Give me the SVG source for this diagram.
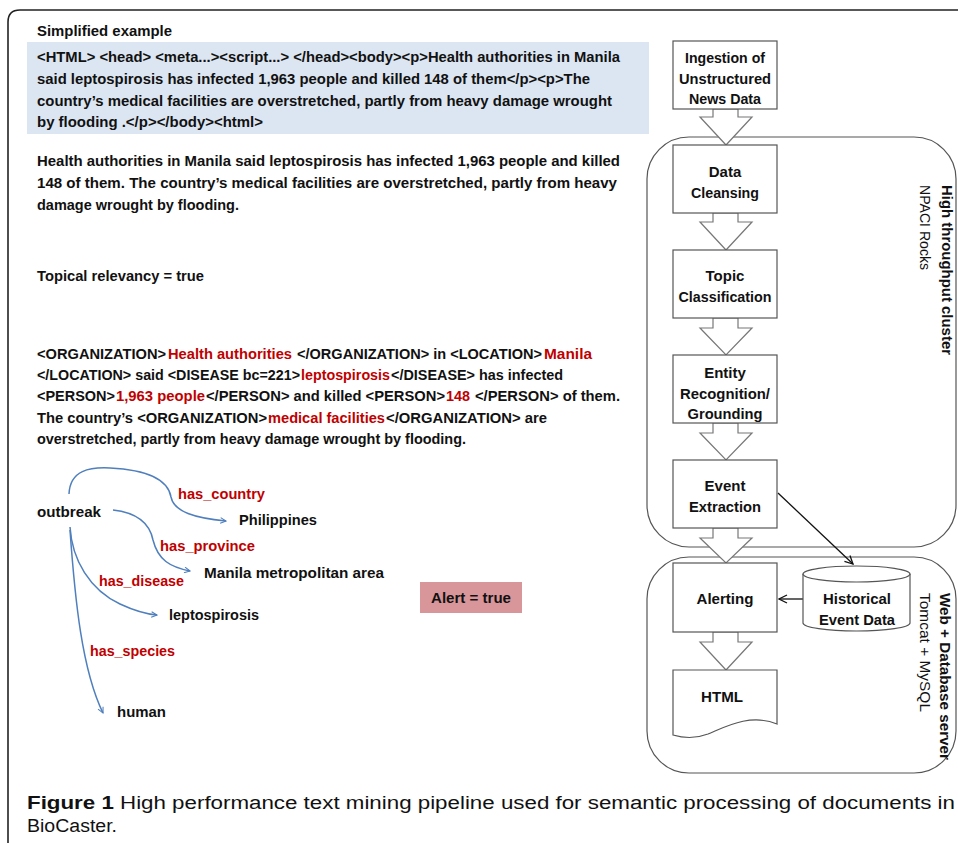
<svg xmlns="http://www.w3.org/2000/svg" width="958" height="843" viewBox="0 0 958 843">
<defs>
<style>
.t{font-family:"Liberation Sans",Arial,sans-serif;font-weight:bold;font-size:15px;fill:#111}
.r{fill:#c00000}
.n{font-family:"Liberation Sans",Arial,sans-serif;font-weight:bold;font-size:15px;fill:#111;text-anchor:middle}
.box{fill:#fff;stroke:#555;stroke-width:1.2}
.barrow{fill:#fff;stroke:#777;stroke-width:1.2}
.clu{fill:none;stroke:#555;stroke-width:1.2}
.blue{fill:none;stroke:#4f7fbd;stroke-width:1.5;marker-end:url(#chev)}
.blk{fill:none;stroke:#111;stroke-width:1.3;marker-end:url(#open)}
.cap{font-family:"Liberation Sans",Arial,sans-serif;font-size:18px;fill:#111}
</style>
<marker id="chev" viewBox="0 0 10 10" refX="9" refY="5" markerWidth="7" markerHeight="7" markerUnits="userSpaceOnUse" orient="auto"><path d="M1,1 L9,5 L1,9" fill="none" stroke="#4f7fbd" stroke-width="1.5"/></marker>
<marker id="open" viewBox="0 0 10 10" refX="9" refY="5" markerWidth="10" markerHeight="10" markerUnits="userSpaceOnUse" orient="auto"><path d="M1,1 L9,5 L1,9" fill="none" stroke="#111" stroke-width="1.3"/></marker>
</defs>
<rect width="958" height="843" fill="#fff"/>
<path d="M8,843 V22 Q8,10 20,10 H960" fill="none" stroke="#222" stroke-width="1.6"/>

<g id="html-example">
<text class="t" x="37" y="36" textLength="135" lengthAdjust="spacingAndGlyphs">Simplified example</text>
<rect x="27" y="42" width="622" height="92" fill="#dce6f2"/>
<text class="t" x="37" y="62" textLength="583" lengthAdjust="spacingAndGlyphs">&lt;HTML&gt; &lt;head&gt; &lt;meta...&gt;&lt;script...&gt; &lt;/head&gt;&lt;body&gt;&lt;p&gt;Health  authorities in Manila</text>
<text class="t" x="37" y="84" textLength="553" lengthAdjust="spacingAndGlyphs">said leptospirosis has infected 1,963 people and killed 148 of them&lt;/p&gt;&lt;p&gt;The</text>
<text class="t" x="37" y="106" textLength="575" lengthAdjust="spacingAndGlyphs">country’s medical facilities are overstretched, partly from heavy damage wrought</text>
<text class="t" x="37" y="127" textLength="226" lengthAdjust="spacingAndGlyphs">by flooding .&lt;/p&gt;&lt;/body&gt;&lt;html&gt;</text>
</g>

<g id="plain-text">
<text class="t" x="37" y="166" textLength="583" lengthAdjust="spacingAndGlyphs">Health authorities in Manila said leptospirosis has infected 1,963 people and killed</text>
<text class="t" x="37" y="188" textLength="580" lengthAdjust="spacingAndGlyphs">148 of them.  The country’s medical facilities are overstretched, partly from heavy</text>
<text class="t" x="37" y="210" textLength="202" lengthAdjust="spacingAndGlyphs">damage wrought by flooding.</text>
</g>

<g id="topical">
<text class="t" x="37" y="281" textLength="167" lengthAdjust="spacingAndGlyphs">Topical relevancy = true</text>
</g>

<g id="tagged-text">
<text class="t" x="37" y="359" textLength="129" lengthAdjust="spacingAndGlyphs">&lt;ORGANIZATION&gt;</text>
<text class="t r" x="168" y="359" textLength="124" lengthAdjust="spacingAndGlyphs">Health authorities</text>
<text class="t" x="297" y="359" textLength="245" lengthAdjust="spacingAndGlyphs">&lt;/ORGANIZATION&gt; in &lt;LOCATION&gt;</text>
<text class="t r" x="544" y="359" textLength="48" lengthAdjust="spacingAndGlyphs">Manila</text>

<text class="t" x="37" y="380" textLength="263" lengthAdjust="spacingAndGlyphs">&lt;/LOCATION&gt; said &lt;DISEASE bc=221&gt;</text>
<text class="t r" x="301" y="380" textLength="89" lengthAdjust="spacingAndGlyphs">leptospirosis</text>
<text class="t" x="391" y="380" textLength="172" lengthAdjust="spacingAndGlyphs">&lt;/DISEASE&gt; has infected</text>

<text class="t" x="37" y="401" textLength="78" lengthAdjust="spacingAndGlyphs">&lt;PERSON&gt;</text>
<text class="t r" x="116" y="401" textLength="89" lengthAdjust="spacingAndGlyphs">1,963 people</text>
<text class="t" x="206" y="401" textLength="239" lengthAdjust="spacingAndGlyphs">&lt;/PERSON&gt; and killed  &lt;PERSON&gt;</text>
<text class="t r" x="446" y="401" textLength="24" lengthAdjust="spacingAndGlyphs">148</text>
<text class="t" x="475" y="401" textLength="145" lengthAdjust="spacingAndGlyphs">&lt;/PERSON&gt; of them.</text>

<text class="t" x="37" y="423" textLength="230" lengthAdjust="spacingAndGlyphs">The country’s &lt;ORGANIZATION&gt;</text>
<text class="t r" x="268" y="423" textLength="117" lengthAdjust="spacingAndGlyphs">medical facilities</text>
<text class="t" x="386" y="423" textLength="161" lengthAdjust="spacingAndGlyphs">&lt;/ORGANIZATION&gt; are</text>

<text class="t" x="37" y="444" textLength="429" lengthAdjust="spacingAndGlyphs">overstretched, partly from heavy damage wrought by flooding.</text>
</g>

<g id="relations">
<g class="edges">
<path class="blue" d="M69,494 C70,470 90,467 110,468 C150,470 168,480 171,497 C174,512 195,518 226,521"/>
<path class="blue" d="M113,510 C140,513 150,525 153,540 C158,560 170,567 190,571"/>
<path class="blue" d="M70,527 C72,560 90,590 120,604 C135,611 145,614 157,615"/>
<path class="blue" d="M70,530 C75,600 82,670 103,713"/>
</g>
<g id="n-outbreak"><text class="t" x="37" y="517" textLength="64" lengthAdjust="spacingAndGlyphs">outbreak</text></g>
<g id="n-philippines"><text class="t" x="239" y="525" textLength="78" lengthAdjust="spacingAndGlyphs">Philippines</text></g>
<g id="n-manila"><text class="t" x="204" y="578" textLength="180" lengthAdjust="spacingAndGlyphs">Manila metropolitan area</text></g>
<g id="n-lepto"><text class="t" x="169" y="620" textLength="90" lengthAdjust="spacingAndGlyphs">leptospirosis</text></g>
<g id="n-human"><text class="t" x="117" y="717" textLength="49" lengthAdjust="spacingAndGlyphs">human</text></g>
<text class="t r" x="178" y="499" textLength="87" lengthAdjust="spacingAndGlyphs">has_country</text>
<text class="t r" x="160" y="551" textLength="95" lengthAdjust="spacingAndGlyphs">has_province</text>
<text class="t r" x="99" y="586" textLength="85" lengthAdjust="spacingAndGlyphs">has_disease</text>
<text class="t r" x="90" y="656" textLength="85" lengthAdjust="spacingAndGlyphs">has_species</text>
</g>

<g id="alert">
<rect x="420" y="582" width="102" height="31" fill="#d9969a"/>
<text class="n" x="471" y="603" textLength="80" lengthAdjust="spacingAndGlyphs">Alert = true</text>
</g>

<g id="clusters">
<rect class="clu" x="647" y="137" width="309" height="410" rx="42"/>
<rect class="clu" x="647" y="557" width="309" height="216" rx="42"/>
<text class="t" transform="translate(942,185) rotate(90)" textLength="170" lengthAdjust="spacingAndGlyphs">High throughput cluster</text>
<text class="t" transform="translate(920,185) rotate(90)" textLength="85" lengthAdjust="spacingAndGlyphs" style="font-weight:normal">NPACI Rocks</text>
<text class="t" transform="translate(940,593) rotate(90)" textLength="167" lengthAdjust="spacingAndGlyphs">Web + Database server</text>
<text class="t" transform="translate(920,593) rotate(90)" textLength="119" lengthAdjust="spacingAndGlyphs" style="font-weight:normal">Tomcat + MySQL</text>
</g>

<g id="connectors">
<polygon class="barrow" points="713,109 713,117 700,117 726,145 752,117 738,117 738,109"/>
<polygon class="barrow" points="713,213 713,222 700,222 726,250 752,222 738,222 738,213"/>
<polygon class="barrow" points="713,318 713,328 700,328 726,355 752,328 738,328 738,318"/>
<polygon class="barrow" points="713,423 713,433 700,433 726,460 752,433 738,433 738,423"/>
<polygon class="barrow" points="713,528 713,538 700,538 726,563 752,538 738,538 738,528"/>
<polygon class="barrow" points="713,632 713,642 700,642 726,670 752,642 738,642 738,632"/>
<line class="blk" x1="778" y1="493" x2="853" y2="564"/>
<line class="blk" x1="803" y1="599" x2="779" y2="599"/>
</g>

<g id="ingestion"><rect class="box" x="673" y="41" width="104" height="68"/>
<text class="n" x="725" y="63" textLength="80" lengthAdjust="spacingAndGlyphs">Ingestion of</text><text class="n" x="725" y="84" textLength="92" lengthAdjust="spacingAndGlyphs">Unstructured</text><text class="n" x="725" y="104" textLength="72" lengthAdjust="spacingAndGlyphs">News Data</text></g>
<g id="cleansing"><rect class="box" x="673" y="145" width="104" height="68"/>
<text class="n" x="725" y="177">Data</text><text class="n" x="725" y="198" textLength="68" lengthAdjust="spacingAndGlyphs">Cleansing</text></g>
<g id="topic"><rect class="box" x="673" y="250" width="104" height="68"/>
<text class="n" x="725" y="281">Topic</text><text class="n" x="725" y="302" textLength="93" lengthAdjust="spacingAndGlyphs">Classification</text></g>
<g id="entity"><rect class="box" x="673" y="355" width="104" height="68"/>
<text class="n" x="725" y="378">Entity</text><text class="n" x="725" y="399" textLength="90" lengthAdjust="spacingAndGlyphs">Recognition/</text><text class="n" x="725" y="419" textLength="75" lengthAdjust="spacingAndGlyphs">Grounding</text></g>
<g id="event"><rect class="box" x="673" y="460" width="104" height="68"/>
<text class="n" x="725" y="491">Event</text><text class="n" x="725" y="512" textLength="72" lengthAdjust="spacingAndGlyphs">Extraction</text></g>
<g id="alerting"><rect class="box" x="673" y="563" width="104" height="69"/>
<text class="n" x="725" y="604" textLength="57" lengthAdjust="spacingAndGlyphs">Alerting</text></g>
<g id="html"><path class="box" d="M673,670 H777 V724 C750,713 725,727 708,734 C695,739 683,738 673,735 Z"/>
<text class="n" x="722" y="702" textLength="42" lengthAdjust="spacingAndGlyphs">HTML</text></g>
<g id="historical">
<path class="box" d="M803,574 V623 A53.5,8 0 0 0 910,623 V574"/>
<ellipse class="box" cx="856.5" cy="574" rx="53.5" ry="8"/>
<text class="n" x="857" y="604" textLength="68" lengthAdjust="spacingAndGlyphs">Historical</text><text class="n" x="857" y="625" textLength="76" lengthAdjust="spacingAndGlyphs">Event Data</text>
</g>

<g id="caption">
<text class="cap" x="27" y="809" textLength="928" lengthAdjust="spacingAndGlyphs"><tspan font-weight="bold">Figure 1</tspan> High performance text mining pipeline used for semantic processing of documents in</text>
<text class="cap" x="27" y="832" textLength="90" lengthAdjust="spacingAndGlyphs">BioCaster.</text>
</g>
</svg>
